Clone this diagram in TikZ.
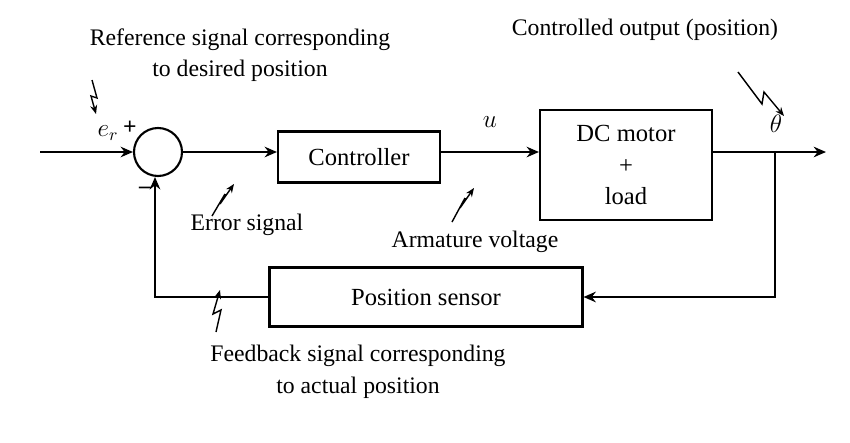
\documentclass[tikz,border=0pt]{standalone}
\usepackage{fontspec}
\setmainfont{Liberation Serif}
\usetikzlibrary{arrows.meta}
\begin{document}
\begin{tikzpicture}[x=0.02cm,y=-0.02cm,
  blk/.style={draw,line width=1.2pt,inner sep=0pt,font=\fontsize{14}{17}\selectfont,align=center},
  sig/.style={line width=1.3pt,-{Stealth[length=7pt,width=6pt]}},
  lbl/.style={font=\fontsize{13.5}{18}\selectfont,align=center,inner sep=0pt},
  bolt/.style={line width=0.8pt,-{Stealth[length=5pt,width=4pt]}}]
\useasboundingbox (0,0) rectangle (850,443);
\node[draw,circle,line width=1.2pt,minimum size=0.96cm,inner sep=0pt] (sum) at (158,152) {};
\coordinate (in) at (40,152);
\node[blk,minimum width=3.24cm,minimum height=1.02cm] (ctrl) at (359,157) {Controller};
\node[blk,minimum width=3.44cm,minimum height=2.2cm] (mot) at (626,165) {DC motor\\[1pt] +\\[1pt] load};
\node[blk,minimum width=6.26cm,minimum height=1.18cm] (sens) at (426,297) {Position sensor};
\coordinate (out) at (826,152);
\coordinate (tap) at (775,152);
\coordinate (fb) at (155,297);
\draw[sig] (in) -- (sum.west);
\draw[sig] (sum.east) -- (sum.east -| ctrl.west);
\draw[sig] (ctrl.east |- 0,152) -- (mot.west |- 0,152);
\draw[sig] (mot.east |- 0,152) -- (out);
\draw[sig] (tap) |- (sens.east);
\draw[sig] (sens.west) -- (fb) -- (sum.south -| fb);
\node[lbl] (er) at (108,133) {\fontsize{14}{17}\selectfont $e_r$};
\node[lbl] (plus) at (130,128) {\bfseries +};
\node[lbl] (minus) at (145,190) {\bfseries --};
\node[lbl] (u) at (490,122) {\fontsize{14}{17}\selectfont $u$};
\node[lbl] (th) at (776,124) {\fontsize{14}{17}\selectfont $\theta$};
\node[lbl] (ref) at (240,55) {Reference signal corresponding\\to desired position};
\node[lbl] (co) at (645,30) {Controlled output (position)};
\node[lbl] (err) at (247,225) {Error signal};
\node[lbl] (arm) at (475,242) {Armature voltage};
\node[lbl] (fbs) at (358,372) {Feedback signal corresponding\\to actual position};
\draw[bolt] (92,80) -- (97,98) -- (91,96) -- (96,114);
\draw[bolt] (212,216) -- (225,194) -- (220,204) -- (234,184);
\draw[bolt] (452,222) -- (465,198) -- (460,208) -- (474,188);
\draw[bolt] (738,72) -- (762,104) -- (764,92) -- (784,116);
\draw[bolt] (216,332) -- (221,310) -- (213,314) -- (220,290);
\end{tikzpicture}
\end{document}
